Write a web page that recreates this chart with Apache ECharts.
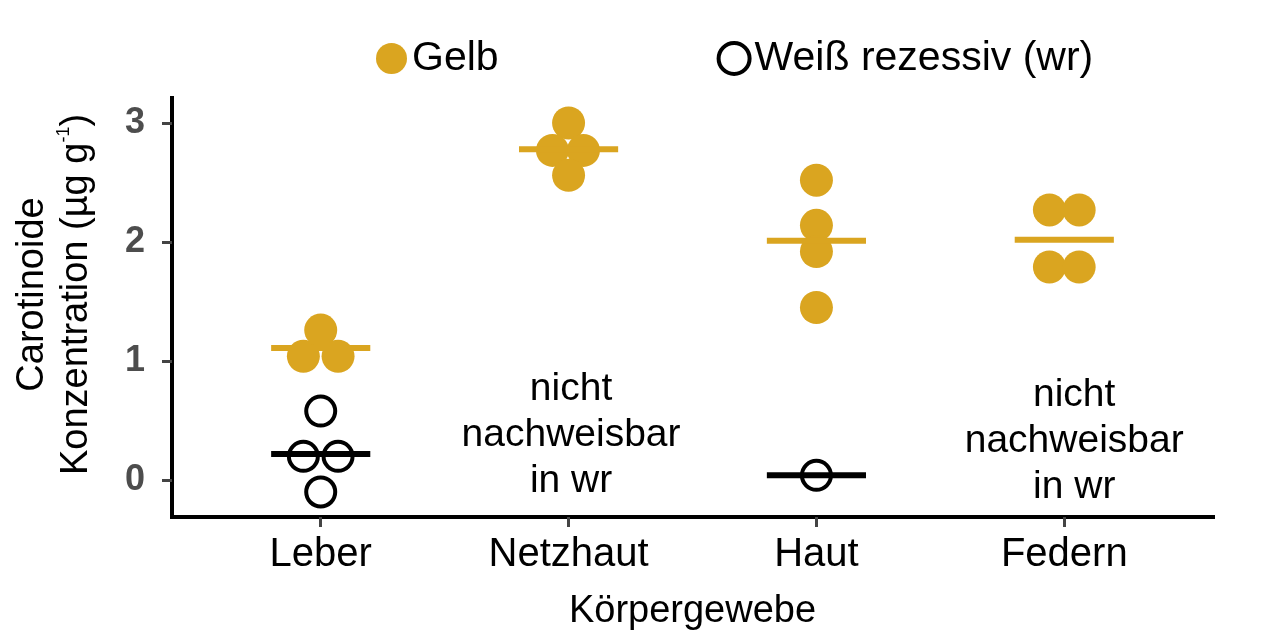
<!DOCTYPE html>
<html>
<head>
<meta charset="utf-8">
<script src="https://cdn.jsdelivr.net/npm/echarts@6/dist/echarts.min.js"></script>
<style>
  html, body { margin: 0; padding: 0; background: #fff; }
  #chart { width: 1279px; height: 637px; }
</style>
</head>
<body>
<div id="chart"></div>
<script>
// categories on the x axis (placed at 1..4 on a value axis)
const categories = ['Leber', 'Netzhaut', 'Haut', 'Federn']
const yTicks = [0, 1, 2, 3]

// Gelb: one entry per point
const gelbCat = [1, 1, 1, 2, 2, 2, 2, 3, 3, 3, 3, 4, 4, 4, 4]
const gelbJitter = [-0.07, 0, 0.07, 0, -0.065, 0.06, 0, 0, 0, 0, 0, -0.06, 0.06, -0.06, 0.06]
const gelbValues = [1.04, 1.26, 1.04, 3.0, 2.77, 2.77, 2.56, 2.52, 2.14, 1.92, 1.45, 2.27, 2.27, 1.79, 1.79]
const gelbMeanCat = [1, 2, 3, 4]
const gelbMeans = [1.11, 2.78, 2.01, 2.02]

// Weiß rezessiv (wr)
const wrCat = [1, 1, 1, 1, 3]
const wrJitter = [0, -0.07, 0.07, 0, 0]
const wrValues = [0.58, 0.2, 0.2, -0.1, 0.04]
const wrMeanCat = [1, 3]
const wrMeans = [0.22, 0.04]

// "nicht nachweisbar" notes
const noteX = [2.01, 4.04]
const noteY = [0.38, 0.33]
const noteText = 'nicht\nnachweisbar\nin wr'

const GOLD = '#daa520'
const FONT = "'Liberation Sans', Arial, sans-serif"

const pts = (cat, jit, vals) => vals.map((v, i) => [cat[i] + jit[i], v])
const means = (cat, vals) => vals.map((v, i) => [cat[i], v])

const meanLine = (color) => (params, api) => {
  const x = api.value(0)
  const y = api.value(1)
  const a = api.coord([x - 0.2, y])
  const b = api.coord([x + 0.2, y])
  return {
    type: 'line',
    shape: { x1: a[0], y1: a[1], x2: b[0], y2: b[1] },
    style: { stroke: color, lineWidth: 6 }
  }
}

const chart = echarts.init(document.getElementById('chart'))
chart.setOption({
  animation: false,
  textStyle: { fontFamily: FONT },
  grid: { left: 172, right: 66, top: 98, bottom: 120 },
  legend: {
    left: 371,
    top: 33,
    itemWidth: 31,
    itemHeight: 31,
    itemGap: 218,
    icon: 'circle',
    textStyle: { fontSize: 41, color: '#000', fontFamily: FONT },
    data: [
      { name: 'Gelb', itemStyle: { color: GOLD, borderWidth: 0 } },
      { name: 'Weiß rezessiv (wr)', itemStyle: { color: '#fff', borderColor: '#000', borderWidth: 4 } }
    ]
  },
  xAxis: {
    type: 'value',
    min: 0.4,
    max: 4.6,
    splitLine: { show: false },
    axisLine: { show: true, onZero: false, lineStyle: { color: '#000', width: 4, cap: 'square' } },
    axisTick: { show: true, customValues: [1, 2, 3, 4], length: 10, lineStyle: { color: '#444', width: 3 } },
    axisLabel: {
      customValues: [1, 2, 3, 4],
      formatter: (v) => categories[Math.round(v) - 1] || '',
      fontSize: 40, color: '#000', margin: 18
    },
    name: 'Körpergewebe',
    nameLocation: 'middle',
    nameGap: 76,
    nameTextStyle: { fontSize: 38, color: '#000' }
  },
  yAxis: {
    type: 'value',
    min: -0.31,
    max: 3.21,
    splitLine: { show: false },
    axisLine: { show: true, onZero: false, lineStyle: { color: '#000', width: 4, cap: 'square' } },
    axisTick: { show: true, customValues: yTicks, length: 10, lineStyle: { color: '#444', width: 3 } },
    axisLabel: {
      customValues: yTicks,
      fontSize: 36, fontWeight: 'bold', color: '#4d4d4d', margin: 27
    },
    name: '{a|Carotinoide}\n{a|Konzentration (µg g}{s|-1}{a|)}',
    nameLocation: 'middle',
    nameRotate: 90,
    nameGap: 73,
    nameTextStyle: {
      padding: [0, 0, 0, 26],
      rich: {
        a: { fontSize: 38, color: '#000', lineHeight: 44, fontFamily: FONT },
        s: { fontSize: 18, color: '#000', lineHeight: 44, verticalAlign: 'top', fontFamily: FONT }
      }
    }
  },
  series: [
    {
      name: 'Gelb',
      type: 'scatter',
      symbol: 'circle',
      symbolSize: 33,
      itemStyle: { color: GOLD, opacity: 1 },
      data: pts(gelbCat, gelbJitter, gelbValues),
      z: 2
    },
    {
      name: 'Weiß rezessiv (wr)',
      type: 'scatter',
      symbol: 'circle',
      symbolSize: 29,
      itemStyle: { color: 'rgba(255,255,255,0)', borderColor: '#000', borderWidth: 4, opacity: 1 },
      data: pts(wrCat, wrJitter, wrValues),
      z: 2
    },
    {
      type: 'custom',
      renderItem: meanLine(GOLD),
      data: means(gelbMeanCat, gelbMeans),
      z: 3
    },
    {
      type: 'custom',
      renderItem: meanLine('#000'),
      data: means(wrMeanCat, wrMeans),
      z: 3
    },
    {
      type: 'scatter',
      symbolSize: 0,
      silent: true,
      itemStyle: { opacity: 1 },
      label: {
        show: true,
        position: 'inside',
        formatter: noteText,
        fontSize: 39,
        lineHeight: 46,
        color: '#000',
        textBorderWidth: 0,
        align: 'center'
      },
      data: noteX.map((x, i) => [x, noteY[i]])
    }
  ]
})

window.addEventListener('resize', () => {
  chart.resize()
})
</script>
</body>
</html>
